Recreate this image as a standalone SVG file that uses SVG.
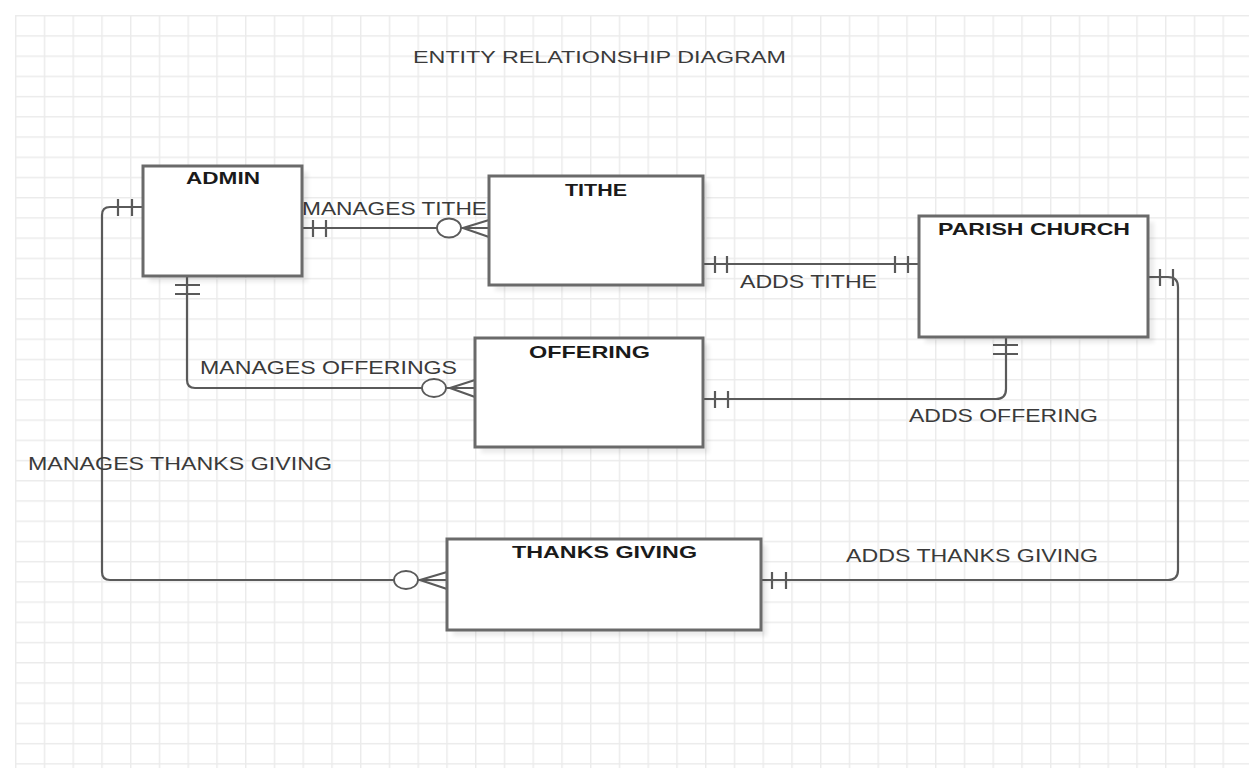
<svg xmlns="http://www.w3.org/2000/svg" width="1249" height="768" viewBox="0 0 1249 768">
<defs>
<pattern id="grid" x="15" y="15" width="28.75" height="20.22" patternUnits="userSpaceOnUse">
<path d="M0.75,0 V20.22 M0,0.75 H28.75" stroke="#ebebeb" stroke-width="1.4" fill="none"/>
</pattern>
<filter id="sh" x="-10%" y="-10%" width="130%" height="130%">
<feGaussianBlur stdDeviation="2"/>
</filter>
</defs>
<style>
.ent{fill:#fff;stroke:#6a6a6a;stroke-width:3}
.shadow{fill:#000;opacity:0.08;filter:url(#sh)}
.name{font-family:"Liberation Sans",Arial,sans-serif;font-weight:bold;font-size:16.5px;fill:#1a1a1a}
.lbl{font-family:"Liberation Sans",Arial,sans-serif;font-size:17.5px;fill:#3a3a3a}
.ln{fill:none;stroke:#5a5a5a;stroke-width:2.2}
.ring{fill:#fff;stroke:#5a5a5a;stroke-width:1.8}
</style>
<rect x="0" y="0" width="1249" height="768" fill="#fff"/>
<rect x="15" y="15" width="1234" height="753" fill="url(#grid)"/>
<text class="lbl" x="413" y="63" style="font-size:16.5px" textLength="373" lengthAdjust="spacingAndGlyphs">ENTITY RELATIONSHIP DIAGRAM</text>

<g id="connectors">
<!-- Admin to Thanks Giving -->
<path class="ln" d="M143,207 H110 Q102,207 102,215 V572 Q102,580 110,580 H447"/>
<path class="ln" d="M118,199 V216 M132,199 V216"/>
<path class="ln" d="M420,580 L447,572 M420,580 L447,589"/>
<ellipse class="ring" cx="406" cy="580" rx="12" ry="9"/>
<!-- Admin to Tithe -->
<path class="ln" d="M302,228 H489"/>
<path class="ln" d="M313,220 V237 M326,220 V237"/>
<path class="ln" d="M463,228 L489,220 M463,228 L489,237"/>
<ellipse class="ring" cx="449" cy="228" rx="12" ry="9.5"/>
<!-- Admin to Offering -->
<path class="ln" d="M187,276 V380 Q187,388 195,388 H475"/>
<path class="ln" d="M175,285 H200 M175,294 H200"/>
<path class="ln" d="M450,388 L475,380 M450,388 L475,397"/>
<ellipse class="ring" cx="434" cy="388" rx="12" ry="9"/>
<!-- Tithe to Parish -->
<path class="ln" d="M703,264 H919"/>
<path class="ln" d="M715,256 V273 M727,256 V273 M895,256 V273 M908,256 V273"/>
<!-- Offering to Parish -->
<path class="ln" d="M703,399 H996 Q1006,399 1006,389 V337"/>
<path class="ln" d="M715,391 V408 M728,391 V408 M993,345 H1018 M993,354 H1018"/>
<!-- Thanks Giving to Parish -->
<path class="ln" d="M761,580 H1168 Q1178,580 1178,570 V287 Q1178,277 1168,277 H1148"/>
<path class="ln" d="M772,572 V589 M786,572 V589 M1160,269 V286 M1173,269 V286"/>
<!-- labels -->
<text class="lbl" x="302" y="215" textLength="185" lengthAdjust="spacingAndGlyphs">MANAGES TITHE</text>
<text class="lbl" x="740" y="288" textLength="137" lengthAdjust="spacingAndGlyphs">ADDS TITHE</text>
<text class="lbl" x="200" y="374" textLength="257" lengthAdjust="spacingAndGlyphs">MANAGES OFFERINGS</text>
<text class="lbl" x="909" y="422" textLength="189" lengthAdjust="spacingAndGlyphs">ADDS OFFERING</text>
<text class="lbl" x="28" y="470" textLength="304" lengthAdjust="spacingAndGlyphs">MANAGES THANKS GIVING</text>
<text class="lbl" x="846" y="562" textLength="252" lengthAdjust="spacingAndGlyphs">ADDS THANKS GIVING</text>
</g>

<g id="admin">
<rect class="shadow" x="149" y="172" width="159" height="110"/>
<rect class="ent" x="143" y="166" width="159" height="110"/>
<text class="name" x="186" y="184" textLength="74" lengthAdjust="spacingAndGlyphs">ADMIN</text>
</g>
<g id="tithe">
<rect class="shadow" x="495" y="182" width="214" height="109"/>
<rect class="ent" x="489" y="176" width="214" height="109"/>
<text class="name" x="565" y="196" textLength="62" lengthAdjust="spacingAndGlyphs">TITHE</text>
</g>
<g id="parish-church">
<rect class="shadow" x="925" y="222" width="229" height="121"/>
<rect class="ent" x="919" y="216" width="229" height="121"/>
<text class="name" x="938" y="235" textLength="192" lengthAdjust="spacingAndGlyphs">PARISH CHURCH</text>
</g>
<g id="offering">
<rect class="shadow" x="481" y="344" width="228" height="109"/>
<rect class="ent" x="475" y="338" width="228" height="109"/>
<text class="name" x="529" y="358" textLength="121" lengthAdjust="spacingAndGlyphs">OFFERING</text>
</g>
<g id="thanks-giving">
<rect class="shadow" x="453" y="545" width="314" height="91"/>
<rect class="ent" x="447" y="539" width="314" height="91"/>
<text class="name" x="512" y="558" textLength="185" lengthAdjust="spacingAndGlyphs">THANKS GIVING</text>
</g>
</svg>
